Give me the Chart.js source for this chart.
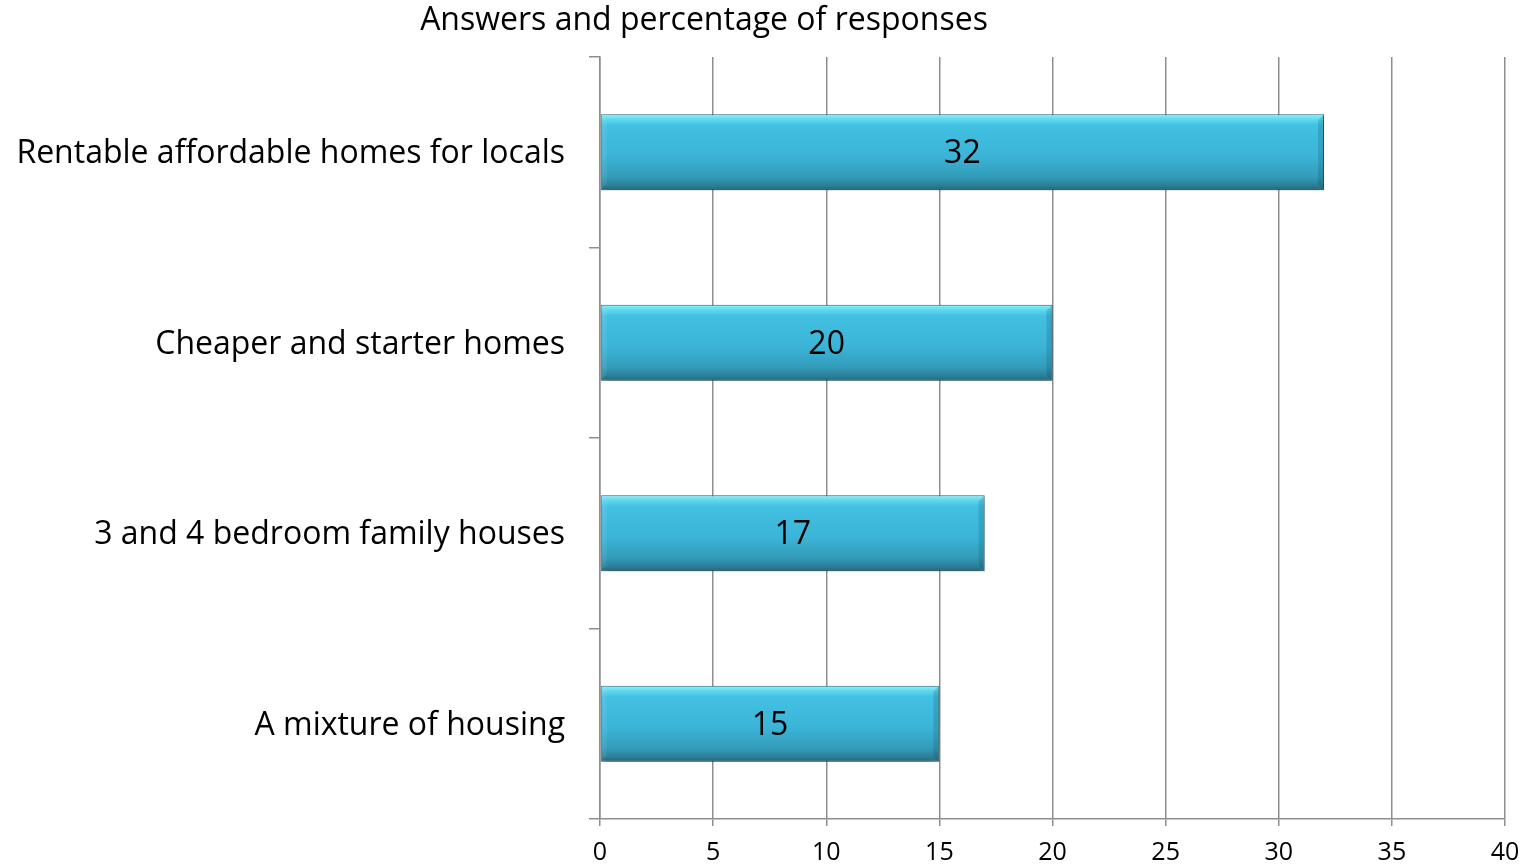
<!DOCTYPE html>
<html>
<head>
<meta charset="utf-8">
<script src="https://cdn.jsdelivr.net/npm/chart.js@4/dist/chart.umd.min.js"></script>
<style>
html,body{margin:0;padding:0;background:#fff;}
canvas{display:block;}
</style>
</head>
<body>
<canvas id="c" width="1540" height="865"></canvas>
<script>
const chartTitle = 'Answers and percentage of responses';
const categories = [
  'Rentable affordable homes for locals',
  'Cheaper and starter homes',
  '3 and 4 bedroom family houses',
  'A mixture of housing'
];
const responses = [32, 20, 17, 15];
const xTickValues = [0, 5, 10, 15, 20, 25, 30, 35, 40];

const FONT = '"Open Sans", "Liberation Sans", sans-serif';
const GRID = '#8e8e8e';
const BAR_FRACTION = 0.4;

function barGradient(c) {
  const chart = c.chart;
  const y = chart.scales && chart.scales.y;
  if (!y || c.type !== 'data' || !isFinite(y.top)) return '#3bb4d7';
  const center = y.getPixelForValue(c.dataIndex);
  const h = (y.bottom - y.top) / categories.length * BAR_FRACTION;
  const top = center - h / 2, bot = center + h / 2;
  const g = chart.ctx.createLinearGradient(0, top, 0, bot);
  g.addColorStop(0, '#8cf4fc');
  g.addColorStop(0.07, '#5fd7ef');
  g.addColorStop(0.15, '#42c0e2');
  g.addColorStop(0.55, '#3bb4d7');
  g.addColorStop(0.82, '#339cba');
  g.addColorStop(0.93, '#2c8099');
  g.addColorStop(1, '#256678');
  return g;
}

const barStyle = {
  id: 'barStyle',
  beforeDatasetDraw(chart) {
    const ctx = chart.ctx;
    ctx.save();
    ctx.shadowColor = 'rgba(0,0,0,0.4)';
    ctx.shadowBlur = 8;
    ctx.shadowOffsetX = 1;
    ctx.shadowOffsetY = 4;
  },
  afterDatasetDraw(chart, args) {
    const ctx = chart.ctx;
    ctx.restore();
    const meta = args.meta;
    meta.data.forEach((el, i) => {
      const top = el.y - el.height / 2, bot = el.y + el.height / 2;
      const left = Math.min(el.base, el.x), right = Math.max(el.base, el.x);
      const b = 6;
      ctx.save();
      ctx.beginPath();
      ctx.moveTo(right, top); ctx.lineTo(right, bot);
      ctx.lineTo(right - b, bot - b); ctx.lineTo(right - b, top + b); ctx.closePath();
      ctx.fillStyle = 'rgba(10,60,80,0.18)';
      ctx.fill();
      ctx.beginPath();
      ctx.moveTo(left, top); ctx.lineTo(left, bot);
      ctx.lineTo(left + b, bot - b); ctx.lineTo(left + b, top + b); ctx.closePath();
      ctx.fillStyle = 'rgba(255,255,255,0.08)';
      ctx.fill();
      ctx.restore();
      ctx.save();
      ctx.font = '32px ' + FONT;
      ctx.fillStyle = '#000';
      ctx.textAlign = 'center';
      ctx.textBaseline = 'middle';
      ctx.fillText(String(responses[i]), (left + right) / 2, el.y + 2);
      ctx.restore();
    });
  },
  afterDraw(chart) {
    const ctx = chart.ctx;
    ctx.save();
    ctx.font = '32px ' + FONT;
    ctx.fillStyle = '#000';
    ctx.textAlign = 'center';
    ctx.textBaseline = 'middle';
    ctx.fillText(chartTitle, 704, 21);
    ctx.restore();
  }
};

new Chart(document.getElementById('c'), {
  type: 'bar',
  data: {
    labels: categories,
    datasets: [{
      data: responses,
      backgroundColor: barGradient,
      borderColor: '#2a7388',
      borderWidth: 1,
      borderSkipped: false,
      categoryPercentage: 0.8,
      barPercentage: 0.5
    }]
  },
  options: {
    indexAxis: 'y',
    responsive: false,
    animation: false,
    devicePixelRatio: 1,
    layout: { padding: { top: 57, right: 35, left: 0, bottom: 0 } },
    plugins: {
      legend: { display: false },
      title: { display: false },
      tooltip: { enabled: false }
    },
    scales: {
      x: {
        min: 0, max: 40,
        afterBuildTicks(scale) { scale.ticks = xTickValues.map(v => ({ value: v })); },
        afterFit(scale) { scale.height = 46; },
        grid: { color: GRID, lineWidth: 1.5, tickLength: 7, drawTicks: true },
        border: { display: true, color: GRID, width: 1.5 },
        ticks: { color: '#000', font: { family: FONT, size: 25 }, padding: 12, maxRotation: 0, autoSkip: false }
      },
      y: {
        afterFit(scale) { scale.width = 600; },
        grid: { display: true, drawOnChartArea: false, drawTicks: true, tickLength: 11, color: GRID, lineWidth: 1.5, offset: true },
        border: { display: true, color: GRID, width: 1.5 },
        ticks: { color: '#000', font: { family: FONT, size: 32 }, padding: 24, labelOffset: 2 }
      }
    }
  },
  plugins: [barStyle]
});
</script>
</body>
</html>
